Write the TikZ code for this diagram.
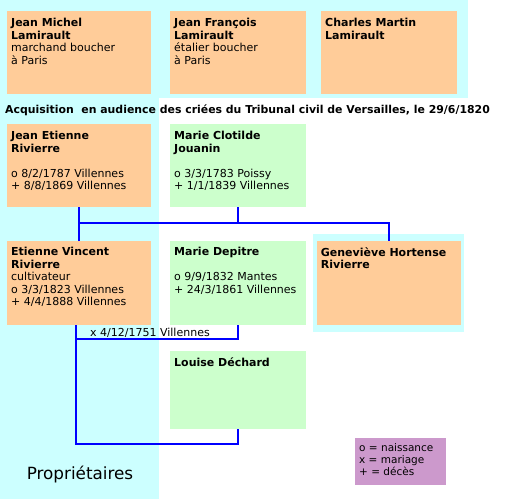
\documentclass[tikz,border=0pt]{standalone}
\usepackage{fontspec}
\setmainfont{DejaVu Sans}
\usetikzlibrary{positioning, calc}
\definecolor{owner}{HTML}{CCFFFF}
\definecolor{man}{HTML}{FFCC99}
\definecolor{woman}{HTML}{CCFFCC}
\definecolor{key}{HTML}{CC99CC}
\definecolor{kin}{HTML}{0000FF}
\tikzset{
  every node/.style = {font=\fontsize{11}{12.5}\selectfont, text=black},
  gnbox/.style    = {draw=none, inner sep=0pt, anchor=north west},
  gnman/.style    = {gnbox, fill=man, minimum width=144pt, minimum height=83pt},
  gnmannr/.style  = {gnbox, fill=man, minimum width=136pt, minimum height=83pt},
  gnwoman/.style  = {gnbox, fill=woman, minimum width=136pt, minimum height=83pt},
  gntext/.style   = {anchor=north west, align=left, inner sep=0pt},
  gnhead/.style   = {anchor=west, inner sep=0pt, font=\fontsize{10.9}{12.5}\selectfont\bfseries},
  gnnote/.style   = {anchor=base west, inner sep=0pt},
  gnkey/.style    = {gnbox, fill=key, minimum width=91pt, minimum height=47pt},
  gnkeytext/.style= {gntext, font=\fontsize{10.5}{12.4}\selectfont},
  gnowner/.style  = {anchor=center, inner sep=0pt, font=\fontsize{16.8}{19}\selectfont},
  kinline/.style  = {draw=kin, line width=1.6pt},
}

\begin{document}
\begin{tikzpicture}[x=1pt, y=-1pt]
\useasboundingbox (0,0) rectangle (507,499);

% owners
\fill[owner] (0,0) rectangle (468,98);
\fill[owner] (0,0) rectangle (159,499);
\fill[owner] (313,234) rectangle (464,332);

\node[gnman]   (jm) at (7,11) {};
\node[gnmannr] (jf) at (170,11) {};
\node[gnmannr] (cm) at (321,11) {};
\node[gntext] (jm-t) at ($(jm.north west)+(4,7)$)
  {\textbf{Jean Michel}\\\textbf{Lamirault}\\marchand boucher\\à Paris};
\node[gntext] (jf-t) at ($(jf.north west)+(4,7)$)
  {\textbf{Jean François}\\\textbf{Lamirault}\\étalier boucher\\à Paris};
\node[gntext] (cm-t) at ($(cm.north west)+(4,7)$)
  {\textbf{Charles Martin}\\\textbf{Lamirault}};

\node[gnhead] (sale) at (5,110)
  {Acquisition\ \ en audience des criées du Tribunal civil de Versailles, le 29/6/1820};

\node[gnman]   (je) at (7,124) {};
\node[gnwoman] (mc) at (170,124) {};
\node[gntext] (je-t) at ($(je.north west)+(4,7)$)
  {\textbf{Jean Etienne}\\\textbf{Rivierre}\\[12.5pt]o 8/2/1787 Villennes\\+ 8/8/1869 Villennes};
\node[gntext] (mc-t) at ($(mc.north west)+(4,7)$)
  {\textbf{Marie Clotilde}\\\textbf{Jouanin}\\[12.5pt]o 3/3/1783 Poissy\\+ 1/1/1839 Villennes};

\node[gnman, minimum height=84pt]   (ev) at (7,241) {};
\node[gnwoman, minimum height=84pt] (md) at (170,241) {};
\node[gnman, minimum height=84pt]   (gh) at (316.7,241) {};
\node[gntext] (ev-t) at ($(ev.north west)+(4,6)$)
  {\textbf{Etienne Vincent}\\\textbf{Rivierre}\\cultivateur\\o 3/3/1823 Villennes\\+ 4/4/1888 Villennes};
\node[gntext] (md-t) at ($(md.north west)+(4,6)$)
  {\textbf{Marie Depitre}\\[12.5pt]o 9/9/1832 Mantes\\+ 24/3/1861 Villennes};
\node[gntext] (gh-t) at ($(gh.north west)+(4,6)$)
  {\textbf{Geneviève Hortense}\\\textbf{Rivierre}};

\node[gnwoman, minimum height=78pt] (ld) at (170,351) {};
\node[gntext] (ld-t) at ($(ld.north west)+(4,6)$) {\textbf{Louise Déchard}};

% children
\coordinate (sibs) at (0,223);
\draw[kinline] (je.south) -- (je.south |- sibs) -| (gh.north);
\draw[kinline] (mc.south) -- (mc.south |- sibs);
\draw[kinline] (ev.north) -- (ev.north |- sibs);

% marriages
\coordinate (evfoot) at ($(ev.south)+(-3,0)$);
\coordinate (wed1) at (0,339);
\coordinate (wed2) at (0,444);
\draw[kinline] (evfoot) |- (md.south |- wed1) -- (md.south);
\draw[kinline] (evfoot) |- (ld.south |- wed2) -- (ld.south);
\node[gnnote] (wed1-l) at (90,336) {x 4/12/1751 Villennes};

\node[gnowner] (owners) at (80,475) {Propriétaires};

\node[gnkey] (key) at (355,438) {};
\node[gnkeytext] (key-t) at ($(key.north west)+(4,5)$)
  {o = naissance\\x = mariage\\+ = décès};
\end{tikzpicture}
\end{document}
